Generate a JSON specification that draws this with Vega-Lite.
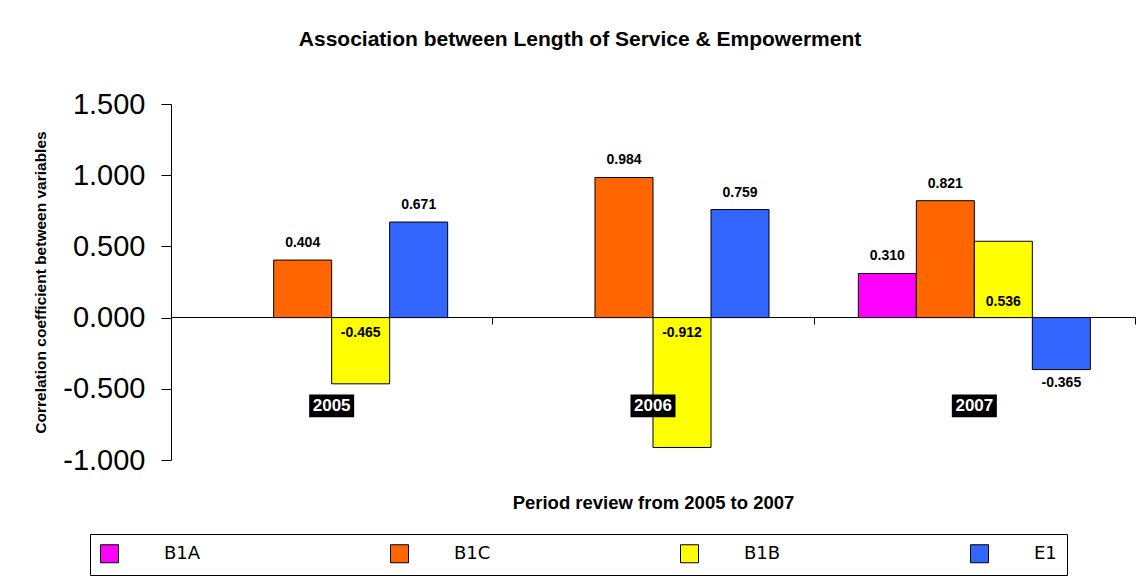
{
  "$schema": "https://vega.github.io/schema/vega-lite/v6.json",
  "width": 964,
  "height": 356,
  "autosize": {"type": "none"},
  "padding": {"left": 171, "top": 104, "right": 6, "bottom": 116},
  "background": "white",
  "title": {
    "text": "Association between Length of Service & Empowerment",
    "font": "Liberation Sans",
    "fontSize": 21,
    "fontWeight": "bold",
    "color": "black",
    "anchor": "middle",
    "dx": -73,
    "offset": 40
  },
  "config": {
    "view": {"stroke": null},
    "locale": {"number": {"decimal": ".", "thousands": ",", "grouping": [3], "currency": ["$", ""], "minus": "-"}}
  },
  "data": {
    "values": [
      {"Year": "2005", "Series": "B1C", "Value": 0.404},
      {"Year": "2005", "Series": "B1B", "Value": -0.465},
      {"Year": "2005", "Series": "E1", "Value": 0.671},
      {"Year": "2006", "Series": "B1C", "Value": 0.984},
      {"Year": "2006", "Series": "B1B", "Value": -0.912},
      {"Year": "2006", "Series": "E1", "Value": 0.759},
      {"Year": "2007", "Series": "B1A", "Value": 0.310},
      {"Year": "2007", "Series": "B1C", "Value": 0.821},
      {"Year": "2007", "Series": "B1B", "Value": 0.536},
      {"Year": "2007", "Series": "E1", "Value": -0.365}
    ]
  },
  "encoding": {
    "x": {
      "field": "Year",
      "type": "nominal",
      "scale": {"domain": ["2005", "2006", "2007"], "paddingInner": 0, "paddingOuter": 0},
      "axis": {
        "orient": "bottom",
        "offset": -143,
        "labels": false,
        "domainColor": "black",
        "tickColor": "black",
        "tickBand": "extent",
        "tickSize": 7,
        "title": "Period review from 2005 to 2007",
        "titleFont": "Liberation Sans",
        "titleFontSize": 18.5,
        "titleFontWeight": "bold",
        "titleColor": "black",
        "titleY": 185,
        "titleBaseline": "middle"
      }
    },
    "xOffset": {
      "field": "Series",
      "type": "nominal",
      "scale": {"domain": ["B1A", "B1C", "B1B", "E1"], "paddingInner": 0, "paddingOuter": 0.77}
    }
  },
  "layer": [
    {
      "mark": {"type": "bar", "stroke": "black", "strokeWidth": 1},
      "encoding": {
        "y": {
          "field": "Value",
          "type": "quantitative",
          "scale": {"domain": [-1, 1.5], "nice": false, "zero": false},
          "axis": {
            "values": [-1, -0.5, 0, 0.5, 1, 1.5],
            "format": ".3f",
            "grid": false,
            "labelFont": "Liberation Sans",
            "labelFontSize": 29,
            "labelColor": "black",
            "tickSize": 10,
            "labelPadding": 16,
            "domainColor": "black",
            "tickColor": "black",
            "title": "Correlation coefficient between variables",
            "titleFont": "Liberation Sans",
            "titleFontSize": 15.5,
            "titleFontWeight": "bold",
            "titleColor": "black",
            "titleX": -131,
            "titleBaseline": "middle"
          }
        },
        "color": {
          "field": "Series",
          "type": "nominal",
          "scale": {"domain": ["B1A", "B1C", "B1B", "E1"], "range": ["#FF00FF", "#FF6600", "#FFFF00", "#3366FF"]},
          "legend": {
            "orient": "none",
            "legendX": -81,
            "legendY": 430,
            "direction": "horizontal",
            "columns": 4,
            "title": null,
            "symbolType": "square",
            "symbolSize": 324,
            "symbolStrokeColor": "black",
            "symbolStrokeWidth": 1,
            "symbolOpacity": 1,
            "labelFont": "DejaVu Sans",
            "labelFontSize": 18,
            "labelColor": "black",
            "labelOffset": 45,
            "columnPadding": 187,
            "gridAlign": "all",
            "strokeColor": "black",
            "padding": 10
          }
        }
      }
    },
    {
      "transform": [{"filter": "datum.Series != 'B1B' && datum.Value > 0"}],
      "mark": {"type": "text", "baseline": "bottom", "dy": -10, "font": "Liberation Sans", "fontSize": 14, "fontWeight": "bold", "color": "black"},
      "encoding": {
        "y": {"field": "Value", "type": "quantitative"},
        "text": {"field": "Value", "type": "quantitative", "format": ".3f"}
      }
    },
    {
      "transform": [{"filter": "datum.Series != 'B1B' && datum.Value < 0"}],
      "mark": {"type": "text", "baseline": "top", "dy": 6, "font": "Liberation Sans", "fontSize": 14, "fontWeight": "bold", "color": "black"},
      "encoding": {
        "y": {"field": "Value", "type": "quantitative"},
        "text": {"field": "Value", "type": "quantitative", "format": ".3f"}
      }
    },
    {
      "transform": [{"filter": "datum.Series == 'B1B' && datum.Value > 0"}],
      "mark": {"type": "text", "baseline": "bottom", "dy": -9, "font": "Liberation Sans", "fontSize": 14, "fontWeight": "bold", "color": "black"},
      "encoding": {
        "y": {"datum": 0, "type": "quantitative"},
        "text": {"field": "Value", "type": "quantitative", "format": ".3f"}
      }
    },
    {
      "transform": [{"filter": "datum.Series == 'B1B' && datum.Value < 0"}],
      "mark": {"type": "text", "baseline": "top", "dy": 8, "font": "Liberation Sans", "fontSize": 14, "fontWeight": "bold", "color": "black"},
      "encoding": {
        "y": {"datum": 0, "type": "quantitative"},
        "text": {"field": "Value", "type": "quantitative", "format": ".3f"}
      }
    },
    {
      "data": {"values": [{"Year": "2005"}, {"Year": "2006"}, {"Year": "2007"}]},
      "mark": {"type": "point", "shape": "M-1,-0.51L1,-0.51L1,0.51L-1,0.51Z", "size": 2025, "filled": true, "color": "black", "opacity": 1, "strokeWidth": 0},
      "encoding": {
        "xOffset": null,
        "y": {"datum": -0.62, "type": "quantitative"}
      }
    },
    {
      "data": {"values": [{"Year": "2005"}, {"Year": "2006"}, {"Year": "2007"}]},
      "mark": {"type": "text", "baseline": "middle", "font": "Liberation Sans", "fontSize": 17, "fontWeight": "bold", "color": "white"},
      "encoding": {
        "xOffset": null,
        "y": {"datum": -0.62, "type": "quantitative"},
        "text": {"field": "Year", "type": "nominal"}
      }
    }
  ]
}
